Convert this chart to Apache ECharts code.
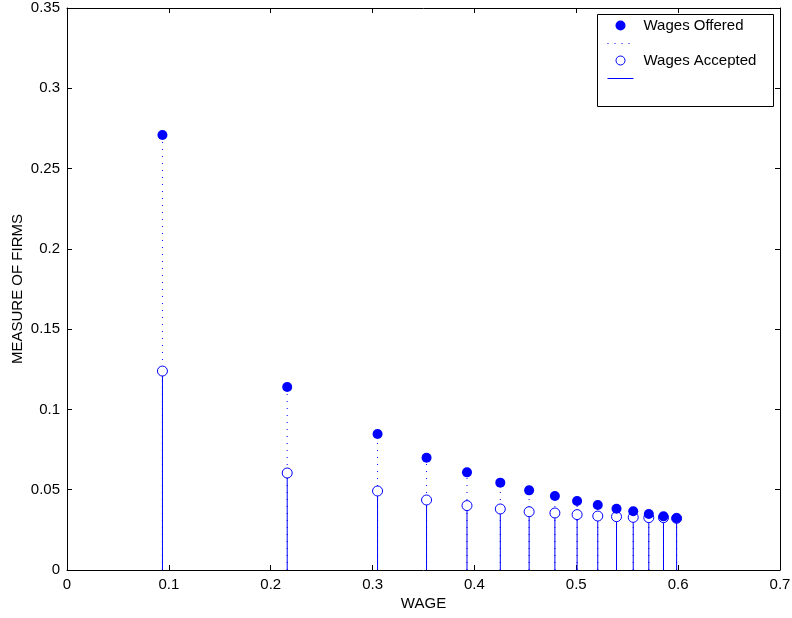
<!DOCTYPE html>
<html lang="en">
<head>
    <meta charset="UTF-8">
    <title>Wages Offered vs Accepted</title>
    <script src="https://cdn.jsdelivr.net/npm/echarts@6/dist/echarts.min.js"></script>
    <style>
        body { margin: 0; background: #fff; }
        #chart { width: 792px; height: 618px; }
    </style>
</head>
<body>
    <div id="chart"></div>
    <script>
        // values
        const wages = [0.0937, 0.2162, 0.3049, 0.3530, 0.3927, 0.4254, 0.4537, 0.4790, 0.5008, 0.5211, 0.5395, 0.5559, 0.5712, 0.5856, 0.5985];
        const offered = [0.2709, 0.1140, 0.0847, 0.0699, 0.0608, 0.0544, 0.0496, 0.0461, 0.0430, 0.0405, 0.0382, 0.0366, 0.0349, 0.0334, 0.0322];
        const accepted = [0.1239, 0.0604, 0.0492, 0.0436, 0.0401, 0.0380, 0.0363, 0.0355, 0.0345, 0.0336, 0.0332, 0.0328, 0.0326, 0.0326, 0.0322];

        const BLUE = '#0000ff';
        const FONT = 'Liberation Sans, Arial, sans-serif';
        const FS = 15;

        const offeredData = wages.map((w, i) => [w, offered[i]]);
        const acceptedData = wages.map((w, i) => [w, accepted[i]]);

        // vertical stem from 0 up to the value
        function stem(dash) {
            return function (params, api) {
                const top = api.coord([api.value(0), api.value(1)]);
                const base = api.coord([api.value(0), 0]);
                return {
                    type: 'line',
                    shape: { x1: base[0], y1: base[1], x2: top[0], y2: top[1] },
                    style: { stroke: BLUE, lineWidth: 1, lineDash: dash }
                };
            };
        }

        const fmt = v => String(+v.toFixed(2));

        const xBase = {
            type: 'value', min: 0, max: 0.7, interval: 0.1,
            axisLine: { onZero: false, lineStyle: { color: '#000', width: 1 } },
            axisTick: { inside: true, length: 5, lineStyle: { color: '#000' } },
            splitLine: { show: false }
        };
        const yBase = {
            type: 'value', min: 0, max: 0.35, interval: 0.05,
            axisLine: { show: true, onZero: false, lineStyle: { color: '#000', width: 1 } },
            axisTick: { show: true, inside: true, length: 5, lineStyle: { color: '#000' } },
            splitLine: { show: false }
        };

        const chart = echarts.init(document.getElementById('chart'));
        chart.setOption({
            animation: false,
            backgroundColor: '#fff',
            textStyle: { fontFamily: FONT },
            grid: { left: 67, right: 12, top: 8, bottom: 48, containLabel: false, outerBoundsMode: 'none' },
            xAxis: [
                Object.assign({}, xBase, {
                    position: 'bottom',
                    name: 'WAGE', nameLocation: 'middle', nameGap: 26, nameMoveOverlap: false,
                    nameTextStyle: { color: '#000', fontSize: FS, fontFamily: FONT },
                    axisLabel: { color: '#000', fontSize: FS, margin: 7, fontFamily: FONT, formatter: fmt }
                }),
                Object.assign({}, xBase, { position: 'top', axisLabel: { show: false } })
            ],
            yAxis: [
                Object.assign({}, yBase, {
                    position: 'left',
                    name: 'MEASURE OF FIRMS', nameLocation: 'middle', nameGap: 42, nameRotate: 90, nameMoveOverlap: false,
                    nameTextStyle: { color: '#000', fontSize: FS, fontFamily: FONT },
                    axisLabel: { color: '#000', fontSize: FS, margin: 7, fontFamily: FONT, formatter: fmt }
                }),
                Object.assign({}, yBase, { position: 'right', axisLabel: { show: false } })
            ],
            series: [
                { name: 'offeredStem', type: 'custom', renderItem: stem([1, 6]), data: offeredData, silent: true },
                { name: 'acceptedStem', type: 'custom', renderItem: stem(null), data: acceptedData, silent: true },
                {
                    name: 'Wages Accepted', type: 'scatter', data: acceptedData,
                    symbol: 'circle', symbolSize: 10,
                    itemStyle: { color: '#fff', borderColor: BLUE, borderWidth: 1, opacity: 1 }
                },
                {
                    name: 'Wages Offered', type: 'scatter', data: offeredData,
                    symbol: 'circle', symbolSize: 10,
                    itemStyle: { color: BLUE, opacity: 1 }
                }
            ],
            graphic: [
                {
                    type: 'group', left: 597, top: 14,
                    children: [
                        { type: 'rect', shape: { x: 0, y: 0, width: 176, height: 92 }, style: { fill: '#fff', stroke: '#000', lineWidth: 1 } },
                        { type: 'circle', shape: { cx: 23, cy: 11, r: 5 }, style: { fill: BLUE } },
                        { type: 'text', x: 46, y: 11, style: { text: 'Wages Offered', fill: '#000', font: FS + 'px ' + FONT, verticalAlign: 'middle' } },
                        { type: 'line', shape: { x1: 10, y1: 29, x2: 34, y2: 29 }, style: { stroke: BLUE, lineWidth: 1, lineDash: [1, 6] } },
                        { type: 'circle', shape: { cx: 23, cy: 46, r: 4.5 }, style: { fill: '#fff', stroke: BLUE, lineWidth: 1 } },
                        { type: 'text', x: 46, y: 46, style: { text: 'Wages Accepted', fill: '#000', font: FS + 'px ' + FONT, verticalAlign: 'middle' } },
                        { type: 'line', shape: { x1: 10, y1: 64, x2: 36, y2: 64 }, style: { stroke: BLUE, lineWidth: 1 } }
                    ]
                }
            ]
        });
    </script>
</body>
</html>
